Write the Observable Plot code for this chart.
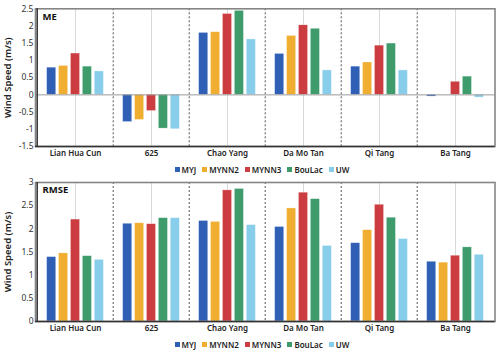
<!DOCTYPE html>
<html>
<head>
<meta charset="utf-8">
<script src="https://cdn.jsdelivr.net/npm/d3@7"></script>
<script src="https://cdn.jsdelivr.net/npm/@observablehq/plot@0.6"></script>
<style>
  html, body { margin: 0; padding: 0; background: #fff; }
  body { width: 500px; height: 354px; overflow: hidden; font-family: "Noto Sans", sans-serif; }
  svg { display: block; font-family: "Noto Sans", sans-serif; color: #333; }
  svg g[aria-label^="x-axis"] text { font-size: 8px; font-weight: 600; fill: #222; }
  svg g[aria-label^="y-axis"] text { font-size: 8.5px; fill: #333; }
  .legend { box-sizing: content-box; display: flex; justify-content: center; align-items: center; height: 12.7px; padding-top: 3px; font-size: 8px; font-weight: 600; color: #222; padding-left: 30px; }
  .legend span.item { display: flex; align-items: center; margin-right: 6px; }
  .legend span.sw { width: 5px; height: 5px; margin-right: 2px; display: inline-block; }
</style>
</head>
<body>
<div id="top"></div>
<div class="legend" id="leg1"></div>
<div id="bottom"></div>
<div class="legend" id="leg2"></div>
<script>
const sites = ["Lian Hua Cun", "625", "Chao Yang", "Da Mo Tan", "Qi Tang", "Ba Tang"];
const models = ["MYJ", "MYNN2", "MYNN3", "BouLac", "UW"];
const colors = ["#2F60B5", "#F0AE30", "#CB3D40", "#3E9B6C", "#88CEEA"];

// ME (m/s)
const meMYJ    = [0.79, -0.79, 1.80, 1.19, 0.82, -0.05];
const meMYNN2  = [0.84, -0.73, 1.82, 1.71, 0.94, 0.00];
const meMYNN3  = [1.20, -0.47, 2.35, 2.02, 1.43, 0.38];
const meBouLac = [0.82, -0.98, 2.44, 1.92, 1.49, 0.53];
const meUW     = [0.68, -1.00, 1.61, 0.71, 0.71, -0.08];

// RMSE (m/s)
const rmseMYJ    = [1.39, 2.11, 2.17, 2.04, 1.69, 1.29];
const rmseMYNN2  = [1.47, 2.12, 2.15, 2.44, 1.97, 1.27];
const rmseMYNN3  = [2.20, 2.10, 2.83, 2.78, 2.52, 1.42];
const rmseBouLac = [1.41, 2.23, 2.86, 2.64, 2.24, 1.60];
const rmseUW     = [1.33, 2.23, 2.08, 1.63, 1.78, 1.44];

const yTitle = "Wind Speed (m/s)";

function rows(series) {
  const out = [];
  models.forEach((m, i) => sites.forEach((s, j) => out.push({site: s, model: m, value: series[i][j]})));
  return out;
}

const W = 500, ML = 35, MR = 5.5;
const bw = (W - ML - MR) / sites.length;
const barW = 9.7, stride = 11.9;
const inset = (bw - barW) / 2;

function panel(label, series, domain, ticks, height, marginTop, marginBottom) {
  const data = rows(series);
  const marks = [
    Plot.ruleX(sites, {stroke: "#d9d9d9", strokeWidth: 1}),
    Plot.ruleX(sites.slice(1), {dx: -bw / 2, stroke: "#555", strokeDasharray: "2,2", strokeWidth: 1})
  ];
  models.forEach((m, i) => {
    marks.push(Plot.barY(data.filter(d => d.model === m), {
      x: "site", y: "value", fill: "model",
      dx: (i - 2) * stride, insetLeft: inset, insetRight: inset,
      stroke: "white", strokeWidth: 0.5, strokeOpacity: 0.6
    }));
  });
  if (domain[0] < 0) marks.push(Plot.ruleY([0], {stroke: "#999", strokeWidth: 1}));
  marks.push(
    Plot.frame({stroke: "#858585", strokeWidth: 1.6}),
    Plot.ruleY([domain[0]], {stroke: "#333", strokeWidth: 1.5}),
    Plot.ruleX([sites[0]], {dx: -bw / 2, stroke: "#333", strokeWidth: 1.5}),
    Plot.text([label], {frameAnchor: "top-left", dx: 7, dy: 4, text: d => d, fontSize: 9.5, fontWeight: "bold", fill: "#111"}),
    Plot.text([yTitle], {frameAnchor: "left", textAnchor: "middle", rotate: -90, dx: -28, text: d => d, fontSize: 9.5, fontWeight: 600, fill: "#222"})
  );
  return Plot.plot({
    width: W, height, marginLeft: ML, marginRight: MR, marginTop, marginBottom,
    x: {domain: sites, padding: 0, label: null, tickSize: 0, tickPadding: 4},
    y: {domain, ticks, label: null, tickSize: 0, tickPadding: 2, tickFormat: d => String(d)},
    color: {domain: models, range: colors},
    style: {fontFamily: "Noto Sans, sans-serif", background: "white", overflow: "visible"},
    marks
  });
}

document.getElementById("top").appendChild(
  panel("ME", [meMYJ, meMYNN2, meMYNN3, meBouLac, meUW], [-1.5, 2.5], d3.range(-1.5, 2.51, 0.5), 160, 8.3, 14)
);
document.getElementById("bottom").appendChild(
  panel("RMSE", [rmseMYJ, rmseMYNN2, rmseMYNN3, rmseBouLac, rmseUW], [0, 3], d3.range(0, 3.01, 0.5), 159, 6, 14)
);

for (const id of ["leg1", "leg2"]) {
  const leg = document.getElementById(id);
  models.forEach((m, i) => {
    const it = document.createElement("span");
    it.className = "item";
    const sw = document.createElement("span");
    sw.className = "sw";
    sw.style.background = colors[i];
    it.appendChild(sw);
    it.appendChild(document.createTextNode(m));
    leg.appendChild(it);
  });
}
</script>
</body>
</html>
